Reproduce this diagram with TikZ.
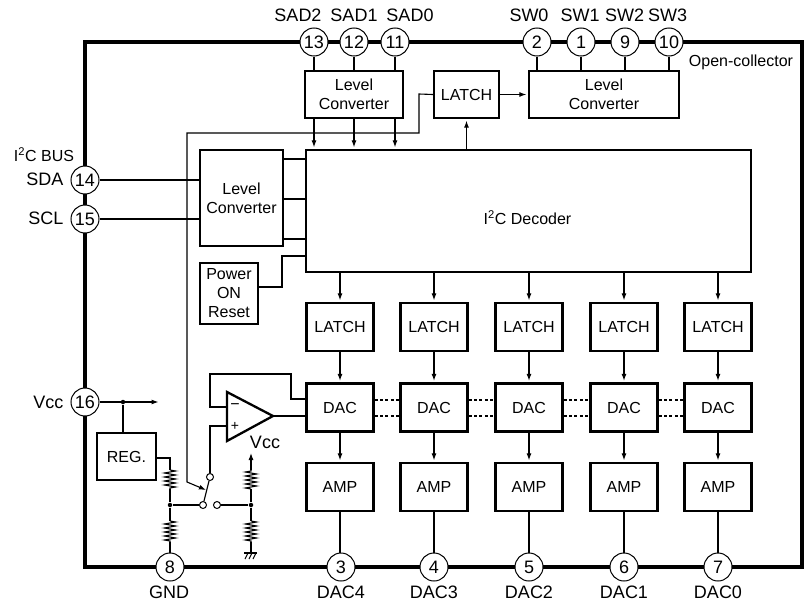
\documentclass[tikz,border=0pt]{standalone}
\usepackage{fontspec}
\setmainfont{Liberation Sans}
\usepackage{tikz}
\usetikzlibrary{arrows.meta,decorations.pathmorphing}
\tikzset{
    box/.style={draw,line width=2.3pt,fill=white,inner sep=0pt,align=center,font=\fontsize{16}{19}\selectfont},
    col/.style={box,minimum width=67pt,minimum height=48pt},
    pin/.style={circle,draw,line width=1pt,fill=white,minimum size=28pt,inner sep=0pt,font=\fontsize{18}{18}\selectfont},
    pinlabel/.style={inner sep=0pt,font=\fontsize{18}{18}\selectfont},
    small/.style={inner sep=0pt,font=\fontsize{16}{16}\selectfont},
    sig/.style={-{Latex[length=7pt,width=5pt]},shorten >=1.5pt},
    dot/.style={circle,fill=black,inner sep=0pt,minimum size=4.5pt},
    contact/.style={circle,draw,line width=1pt,fill=white,inner sep=0pt,minimum size=7pt},
    res/.style={decorate,decoration={zigzag,segment length=4pt,amplitude=5.5pt}},
    bus/.style={dash pattern=on 3pt off 2.4pt}
}
\begin{document}
\begin{tikzpicture}[x=1pt,y=-1pt,line width=1.1pt]
    \useasboundingbox (0,0) rectangle (809,605);
    % package outline
    \draw[line width=3.5pt] (85,42) rectangle (802,567);

    % pins
    \node[pin] (pin13) at (314,42) {13};
    \node[pin] (pin12) at (354,42) {12};
    \node[pin] (pin11) at (395,42) {11};
    \node[pin] (pin2) at (537,42) {2};
    \node[pin] (pin1) at (581,42) {1};
    \node[pin] (pin9) at (625,42) {9};
    \node[pin] (pin10) at (669,42) {10};
    \node[pin] (pin14) at (85,180) {14};
    \node[pin] (pin15) at (85,219) {15};
    \node[pin] (pin16) at (85,402) {16};
    \node[pin] (pin8) at (170,567) {8};
    \node[pin] (pin3) at (341,567) {3};
    \node[pin] (pin4) at (434,567) {4};
    \node[pin] (pin5) at (529,567) {5};
    \node[pin] (pin6) at (624,567) {6};
    \node[pin] (pin7) at (718,567) {7};

    \node[pinlabel] (lsad2) at (298,15) {SAD2};
    \node[pinlabel] (lsad1) at (354,15) {SAD1};
    \node[pinlabel] (lsad0) at (410,15) {SAD0};
    \node[pinlabel] (lsw0) at (529,15) {SW0};
    \node[pinlabel] (lsw1) at (580,15) {SW1};
    \node[pinlabel] (lsw2) at (624.5,15) {SW2};
    \node[pinlabel] (lsw3) at (667.5,15) {SW3};
    \node[small] (lopen) at (741,62) {Open-collector};
    \node[small] (lbus) at (44,155) {I\textsuperscript{2}C BUS};
    \node[pinlabel,anchor=east] (lsda) at (64,179) {SDA};
    \node[pinlabel,anchor=east] (lscl) at (64,218) {SCL};
    \node[pinlabel,anchor=east] (lvcc) at (64,402) {Vcc};
    \node[pinlabel] (lgnd) at (169,592) {GND};
    \node[pinlabel] (ldac4) at (341,592) {DAC4};
    \node[pinlabel] (ldac3) at (434,592) {DAC3};
    \node[pinlabel] (ldac2) at (529,592) {DAC2};
    \node[pinlabel] (ldac1) at (624,592) {DAC1};
    \node[pinlabel] (ldac0) at (718,592) {DAC0};

    % top row and decoder
    \node[box,minimum width=98pt,minimum height=47pt] (lcsad) at (354,94.5) {Level\\Converter};
    \node[box,minimum width=65pt,minimum height=47pt] (latsw) at (466.5,94.5) {LATCH};
    \node[box,minimum width=150pt,minimum height=47pt] (lcsw) at (604,94.5) {Level\\Converter};
    \node[box,minimum width=445pt,minimum height=122pt] (dec) at (528.5,211) {};
    \node[small] (ldec) at (527.5,218) {I\textsuperscript{2}C Decoder};
    \node[box,minimum width=83pt,minimum height=96pt] (lcbus) at (241.5,198) {Level\\Converter};
    \node[box,minimum width=58pt,minimum height=61pt] (por) at (229,293.5) {Power\\ON\\Reset};
    \node[box,minimum width=59pt,minimum height=47pt] (reg) at (126.5,456.5) {REG.};

    % channels
    \node[col] (lat4) at (340,327) {LATCH};
    \node[col] (lat3) at (434,327) {LATCH};
    \node[col] (lat2) at (529,327) {LATCH};
    \node[col] (lat1) at (624,327) {LATCH};
    \node[col] (lat0) at (718,327) {LATCH};
    \node[col] (dac4) at (340,407.5) {DAC};
    \node[col] (dac3) at (434,407.5) {DAC};
    \node[col] (dac2) at (529,407.5) {DAC};
    \node[col] (dac1) at (624,407.5) {DAC};
    \node[col] (dac0) at (718,407.5) {DAC};
    \node[col] (amp4) at (340,487) {AMP};
    \node[col] (amp3) at (434,487) {AMP};
    \node[col] (amp2) at (529,487) {AMP};
    \node[col] (amp1) at (624,487) {AMP};
    \node[col] (amp0) at (718,487) {AMP};

    \draw (pin13) -- (pin13 |- lcsad.north);
    \draw (pin12) -- (pin12 |- lcsad.north);
    \draw (pin11) -- (pin11 |- lcsad.north);
    \draw (pin2) -- (pin2 |- lcsw.north);
    \draw (pin1) -- (pin1 |- lcsw.north);
    \draw (pin9) -- (pin9 |- lcsw.north);
    \draw (pin10) -- (pin10 |- lcsw.north);
    \draw[sig] (pin13 |- lcsad.south) -- (pin13 |- dec.north);
    \draw[sig] (pin12 |- lcsad.south) -- (pin12 |- dec.north);
    \draw[sig] (pin11 |- lcsad.south) -- (pin11 |- dec.north);
    \draw[sig] (latsw.south |- dec.north) -- (latsw.south);
    \draw[sig] (latsw.east) -- (lcsw.west);

    \draw (pin14) -- (pin14 -| lcbus.west);
    \draw (pin15) -- (pin15 -| lcbus.west);
    \draw (lcbus.east |- 0,159) -- (dec.west |- 0,159);
    \draw (lcbus.east |- 0,199) -- (dec.west |- 0,199);
    \draw (lcbus.east |- 0,239) -- (dec.west |- 0,239);
    \draw (por.east |- 0,287) -- (282,287) -- (282,256) -- (dec.west |- 0,256);

    \draw[sig] (lat4.south) -- (dac4.north);
    \draw[sig] (lat3.south) -- (dac3.north);
    \draw[sig] (lat2.south) -- (dac2.north);
    \draw[sig] (lat1.south) -- (dac1.north);
    \draw[sig] (lat0.south) -- (dac0.north);
    \draw[sig] (dac4.south) -- (amp4.north);
    \draw[sig] (dac3.south) -- (amp3.north);
    \draw[sig] (dac2.south) -- (amp2.north);
    \draw[sig] (dac1.south) -- (amp1.north);
    \draw[sig] (dac0.south) -- (amp0.north);
    \draw[sig] (lat4 |- dec.south) -- (lat4.north);
    \draw[sig] (lat3 |- dec.south) -- (lat3.north);
    \draw[sig] (lat2 |- dec.south) -- (lat2.north);
    \draw[sig] (lat1 |- dec.south) -- (lat1.north);
    \draw[sig] (lat0 |- dec.south) -- (lat0.north);
    \draw (amp4.south) -- (amp4.south |- pin3.north);
    \draw (amp3.south) -- (pin4);
    \draw (amp2.south) -- (pin5);
    \draw (amp1.south) -- (pin6);
    \draw (amp0.south) -- (pin7);

    % links between DACs
    \draw[bus] (dac4.east |- 0,400) -- (dac3.west |- 0,400);
    \draw[bus] (dac4.east |- 0,416) -- (dac3.west |- 0,416);
    \draw[bus] (dac3.east |- 0,400) -- (dac2.west |- 0,400);
    \draw[bus] (dac3.east |- 0,416) -- (dac2.west |- 0,416);
    \draw[bus] (dac2.east |- 0,400) -- (dac1.west |- 0,400);
    \draw[bus] (dac2.east |- 0,416) -- (dac1.west |- 0,416);
    \draw[bus] (dac1.east |- 0,400) -- (dac0.west |- 0,400);
    \draw[bus] (dac1.east |- 0,416) -- (dac0.west |- 0,416);

    % op amp
    \draw[line width=2.3pt,line join=miter] (227,392) -- (227,441) -- (273,416) -- cycle;
    \coordinate (opin) at (227,407);
    \coordinate (opip) at (227,426);
    \coordinate (opout) at (273,416);
    \node[small] (minus) at (235,407) {−};
    \node[inner sep=0pt,font=\fontsize{14}{14}\selectfont] (plus) at (235,426) {+};
    \node[pinlabel] (lvref) at (265,442) {Vcc};
    \draw (opin) -- (210,407) -- (210,374) -- (291,374) -- (291,399) -- (dac4.west |- 0,399);
    \draw (opout) -- (opout -| dac4.west);

    % switch
    \node[contact] (swt) at (210,477) {};
    \node[contact] (swl) at (203,505) {};
    \node[contact] (swr) at (217,505) {};
    \coordinate (swarm) at (206,490);
    \draw (opip) -- (210,426) -- (swt);
    \draw (swl) -- (swt);
    \draw[sig,shorten >=0pt] (latsw.west) -- (419,94) -- (419,133) -- (187,133) -- (187,482) -- (swarm);

    % vcc and dividers
    \node[dot] (n16) at (123,402) {};
    \node[dot] (nl) at (170,505) {};
    \node[dot] (nr) at (251,505) {};
    \coordinate (vccout) at (160,402);
    \coordinate (vrefout) at (251,453);
    \coordinate (gnd) at (251,553);
    \draw[sig] (pin16) -- (vccout);
    \draw (n16) -- (n16 |- reg.north);
    \draw (reg.east |- 0,458) -- (170,458) -- (170,470);
    \draw[res] (170,470) -- (170,489);
    \draw (170,489) -- (nl) -- (170,521);
    \draw[res] (170,521) -- (170,542);
    \draw (170,542) -- (pin8);
    \draw (nl) -- (swl);
    \draw (swr) -- (nr);
    \draw (nr) -- (251,489);
    \draw[res] (251,489) -- (251,470);
    \draw[sig,shorten >=0pt] (251,470) -- (vrefout);
    \draw (nr) -- (251,521);
    \draw[res] (251,521) -- (251,542);
    \draw (251,542) -- (gnd);
    \draw (244,553) -- (257,553);
    \draw (248,553) -- ++(-3,6);
    \draw (252,553) -- ++(-3,6);
    \draw (256,553) -- ++(-3,6);
\end{tikzpicture}
\end{document}
